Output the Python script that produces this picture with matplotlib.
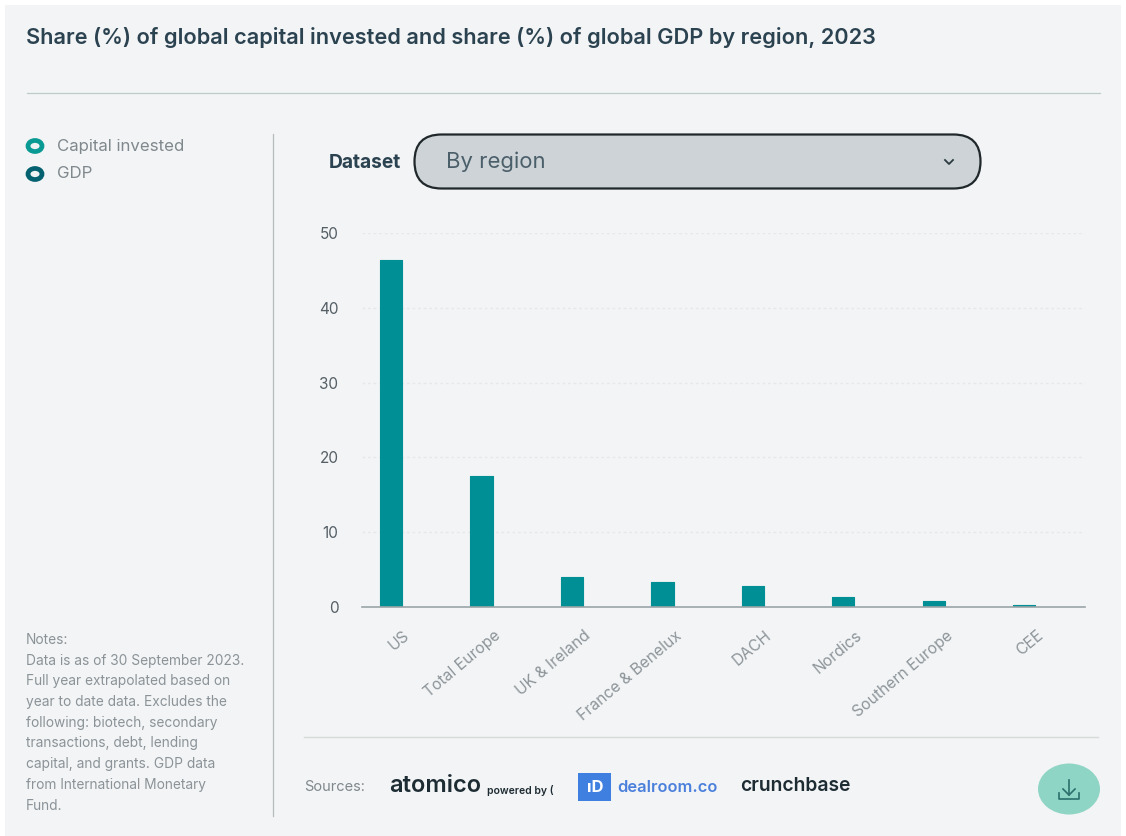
import matplotlib
matplotlib.use("Agg")
import matplotlib.pyplot as plt
from matplotlib.patches import Ellipse, FancyBboxPatch, Rectangle
from matplotlib.transforms import ScaledTranslation

# chart values
regions = ["US", "Total Europe", "UK & Ireland", "France & Benelux", "DACH",
           "Nordics", "Southern Europe", "CEE"]
capital_invested = [46.4, 17.5, 4.0, 3.3, 2.8, 1.3, 0.8, 0.3]
y_ticks = [0, 10, 20, 30, 40, 50]
legend_names = ["Capital invested", "GDP"]
notes = ["Notes:",
         "Data is as of 30 September 2023.",
         "Full year extrapolated based on",
         "year to date data. Excludes the",
         "following: biotech, secondary",
         "transactions, debt, lending",
         "capital, and grants. GDP data",
         "from International Monetary",
         "Fund."]

TEAL = "#008f94"
DARK = "#2b4250"
GREY = "#7f888d"
PANEL = "#f3f4f5"

plt.rcParams["font.family"] = ["Inter", "DejaVu Sans"]

W, H = 1126, 836
fig = plt.figure(figsize=(W / 100, H / 100), dpi=100, facecolor="white")

# page furniture is laid out in pixels on a full size axes
bg = fig.add_axes([0, 0, 1, 1])
bg.set_xlim(0, W)
bg.set_ylim(H, 0)
bg.axis("off")
bg.add_patch(Rectangle((5, 5), W - 10, H - 5, fc=PANEL, ec="none"))

bg.text(26, 37, "Share (%) of global capital invested and share (%) of global GDP by region, 2023",
        fontsize=15.65, fontweight="semibold", color=DARK, va="center")
bg.plot([27, 1100], [93, 93], color="#bccac8", lw=0.9)
bg.plot([272.5, 272.5], [134, 816], color="#b4bcbe", lw=0.9)

# legend
for y, name, col in zip([146, 174], legend_names, ["#0a9a94", "#04616f"]):
    bg.add_patch(Ellipse((35, y), 14, 11, fc="#eef2f2", ec=col, lw=3.4))
    bg.text(57, y, name, fontsize=12.1, color=GREY, va="center")

# notes column
for i, line in enumerate(notes):
    bg.text(26, 640 + i * 20.7, line, fontsize=9.9, color="#8b9398", va="center")

# dataset selector
bg.text(329, 163, "Dataset", fontsize=13.8, fontweight="bold", color=DARK, va="center")
bg.add_patch(FancyBboxPatch((414.5, 134.5), 566, 54, boxstyle="round,pad=0,rounding_size=27",
                            fc="#cdd3d6", ec="#20282c", lw=1.6))
bg.text(446, 162, "By region", fontsize=15.9, color="#4b5f6b", va="center")
bg.plot([945, 949, 953], [160, 164, 160], color="#2c3a42", lw=1.3)

# footer
bg.plot([304, 1098], [737, 737], color="#d5dbdb", lw=1)
bg.text(304, 787, "Sources:", fontsize=10.5, color=GREY, va="center")
bg.text(389, 786, "atomico", fontsize=17, fontweight="semibold", color="#1d2b33", va="center")
bg.text(487, 790, "powered by (", fontsize=7.5, fontweight="semibold", color="#1d2b33", va="center")
bg.add_patch(Rectangle((578, 773), 33, 28, fc="#3f7fe0", ec="none"))
bg.text(595, 787, "ıD", fontsize=12, fontweight="bold", color="white", va="center", ha="center")
bg.text(617, 787, "dealroom.co", fontsize=11.8, fontweight="semibold", color="#4a80dc", va="center")
bg.text(740, 786, "crunchbase", fontsize=13.9, fontweight="semibold", color="#1d2b33", va="center")

# download button
bg.add_patch(Ellipse((1069, 789), 62, 51, fc="#8fd5c6", ec="none"))
bg.plot([1069, 1069], [780, 795], color="#2c6f6c", lw=1.2)
bg.plot([1063, 1069, 1075], [789, 795, 789], color="#2c6f6c", lw=1.2)
bg.plot([1059, 1059, 1079, 1079], [793, 799, 799, 793], color="#2c6f6c", lw=1.2)

# bar chart, placed so 0 and 50 land on the plot band
ax = fig.add_axes([362 / W, 1 - 607 / H, (1085 - 362) / W, (607 - 233) / H], facecolor="none")
ax.bar(range(len(regions)), capital_invested, width=0.245, color=TEAL,
       edgecolor=TEAL, linewidth=0.8, joinstyle="round", zorder=3)
ax.set_xlim(-0.32, 7.67)
ax.set_ylim(0, 50)
ax.set_yticks(y_ticks)
ax.set_xticks(range(len(regions)))
ax.set_xticklabels(regions, rotation=40, ha="right", rotation_mode="anchor",
                   fontsize=11.3, color="#8d959a")
ax.tick_params(axis="x", length=0, pad=15)
ax.tick_params(axis="y", length=0, pad=17, labelsize=11, labelcolor="#555f66")
ax.grid(axis="y", color="#e6e9ea", lw=1, ls=(0, (2, 2)), zorder=0)
ax.set_axisbelow(True)
for side in ["top", "right", "left"]:
    ax.spines[side].set_visible(False)
ax.spines["bottom"].set_color("#9aa5a8")
ax.spines["bottom"].set_linewidth(1.2)
ax.spines["bottom"].set_zorder(4)

# nudge the slanted labels to the right of their bars
shift = ScaledTranslation(12 / 100, 0, fig.dpi_scale_trans)
for lab in ax.get_xticklabels():
    lab.set_transform(lab.get_transform() + shift)
for lab in ax.get_yticklabels():
    lab.set_va("center_baseline")

fig.savefig("out.png", dpi=100)
